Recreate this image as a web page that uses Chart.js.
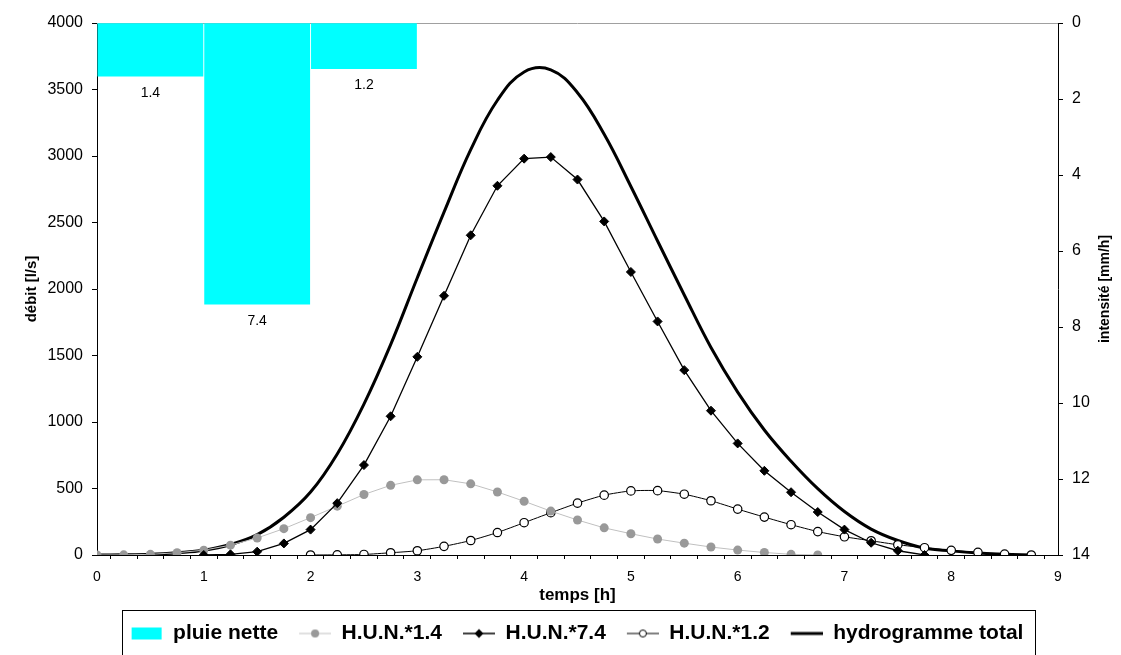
<!DOCTYPE html>
<html>
<head>
<meta charset="utf-8">
<script src="https://cdn.jsdelivr.net/npm/chart.js@4.4.1/dist/chart.umd.min.js"></script>
<style>
  html, body { margin: 0; padding: 0; background: #fff; }
</style>
</head>
<body>
<canvas id="hydro" width="1121" height="655"></canvas>
<script>
Chart.defaults.color = '#000';
Chart.defaults.font.family = "'Liberation Sans', Arial, sans-serif";

// temps [h], pas de 15 min
const temps = [0, 0.25, 0.5, 0.75, 1, 1.25, 1.5, 1.75, 2, 2.25, 2.5, 2.75,
  3, 3.25, 3.5, 3.75, 4, 4.25, 4.5, 4.75, 5, 5.25, 5.5, 5.75,
  6, 6.25, 6.5, 6.75, 7, 7.25, 7.5, 7.75, 8, 8.25, 8.5, 8.75];

// pluie nette [mm/h] par heure
const pluieX = [0.5, 1.5, 2.5];
const pluieNette = [1.4, 7.4, 1.2];

// débits [l/s]
const hun14 = [0, 1, 5, 17, 36, 74, 128, 198, 281, 367, 455, 524,
  565, 566, 535, 474, 404, 330, 263, 204, 160, 120, 89, 60,
  37, 19, 5, 0, null, null, null, null, null, null, null, null];
const hun74 = [null, null, null, null, 0, 5, 25, 87, 191, 390, 676, 1043,
  1490, 1949, 2404, 2776, 2980, 2992, 2823, 2508, 2128, 1756, 1390, 1085,
  839, 633, 472, 323, 191, 92, 32, 0, null, null, null, null];
const hun12 = [null, null, null, null, null, null, null, null, 0, 1, 4, 17,
  32, 65, 109, 169, 243, 318, 390, 450, 482, 484, 457, 408,
  345, 285, 228, 176, 137, 107, 77, 55, 35, 20, 7, 0];
const hydroTotal = [0, 1, 5, 17, 36, 79, 153, 284, 473, 760, 1135, 1582,
  2085, 2578, 3048, 3419, 3632, 3648, 3476, 3163, 2771, 2361, 1955, 1560,
  1225, 940, 705, 499, 327, 195, 109, 52, 31, 15, 5, 0];

const points = serie => temps.map((t, i) => ({x: t, y: serie[i]})).filter(p => p.y !== null);

// petites icones de légende (trait + marqueur)
function icone(dessin) {
  const c = document.createElement('canvas');
  c.width = 48;
  c.height = 16;
  dessin(c.getContext('2d'));
  return c;
}
function trait(g, couleur, epaisseur) {
  g.strokeStyle = couleur;
  g.lineWidth = epaisseur;
  g.beginPath();
  g.moveTo(16, 8);
  g.lineTo(48, 8);
  g.stroke();
}
const icones = [
  icone(g => { g.fillStyle = '#00FFFF'; g.fillRect(17, 2, 30, 12); }),
  icone(g => {
    trait(g, '#C0C0C0', 1);
    g.fillStyle = '#999999';
    g.beginPath(); g.arc(32, 8, 4, 0, Math.PI * 2); g.fill();
  }),
  icone(g => {
    trait(g, '#000', 1.5);
    g.fillStyle = '#000';
    g.beginPath(); g.moveTo(32, 3.5); g.lineTo(36.5, 8); g.lineTo(32, 12.5); g.lineTo(27.5, 8); g.closePath(); g.fill();
  }),
  icone(g => {
    trait(g, '#000', 1);
    g.fillStyle = '#fff';
    g.lineWidth = 1;
    g.beginPath(); g.arc(32, 8, 3.5, 0, Math.PI * 2); g.fill(); g.stroke();
  }),
  icone(g => { trait(g, '#000', 3); })
];

const habillage = {
  id: 'habillage',
  beforeDatasetsDraw(chart) {
    const {ctx, chartArea} = chart;
    ctx.save();
    ctx.strokeStyle = '#A0A0A0';
    ctx.lineWidth = 1;
    ctx.beginPath();
    ctx.moveTo(chartArea.left, chartArea.top + 0.5);
    ctx.lineTo(chartArea.right, chartArea.top + 0.5);
    ctx.stroke();
    ctx.restore();
  },
  afterDatasetsDraw(chart) {
    const {ctx} = chart;
    const meta = chart.getDatasetMeta(0);
    ctx.save();
    ctx.font = "14px 'Liberation Sans', Arial, sans-serif";
    ctx.fillStyle = '#000';
    ctx.textAlign = 'center';
    ctx.textBaseline = 'middle';
    meta.data.forEach((bar, i) => {
      ctx.fillText(pluieNette[i].toFixed(1), bar.x, bar.y + 17);
    });
    ctx.restore();
  },
  afterDraw(chart) {
    const {ctx, chartArea} = chart;
    ctx.save();
    // titre de l'axe secondaire, lu de bas en haut
    ctx.translate(chart.width - 16, (chartArea.top + chartArea.bottom) / 2);
    ctx.rotate(-Math.PI / 2);
    ctx.font = "bold 14px 'Liberation Sans', Arial, sans-serif";
    ctx.fillStyle = '#000';
    ctx.textAlign = 'center';
    ctx.textBaseline = 'middle';
    ctx.fillText('intensité [mm/h]', 0, 0);
    ctx.restore();

    // cadre de la légende
    const boites = chart.legend.legendHitBoxes;
    if (boites && boites.length) {
      const der = boites[boites.length - 1];
      const gauche = Math.round(boites[0].left + 16 - 9);
      const droite = Math.round(der.left + der.width + 12);
      const haut = Math.round(chart.legend.top - 8);
      ctx.save();
      ctx.strokeStyle = '#000';
      ctx.lineWidth = 1;
      ctx.strokeRect(gauche + 0.5, haut + 0.5, droite - gauche, chart.height - haut + 5);
      ctx.restore();
    }
  }
};

const ctx = document.getElementById('hydro');

const hydrogramme = new Chart(ctx, {
  type: 'line',
  data: {
    datasets: [
      {
        type: 'bar',
        label: 'pluie nette',
        data: pluieX.map((x, i) => ({x: x, y: pluieNette[i]})),
        yAxisID: 'y2',
        backgroundColor: '#00FFFF',
        borderWidth: 0,
        barThickness: 'flex',
        barPercentage: 0.985,
        categoryPercentage: 1,
        order: 0
      },
      {
        label: 'H.U.N.*1.4',
        data: points(hun14),
        yAxisID: 'y',
        borderColor: '#C0C0C0',
        borderWidth: 1,
        pointStyle: 'circle',
        pointRadius: 4.5,
        pointBackgroundColor: '#999999',
        pointBorderColor: '#999999',
        pointBorderWidth: 0,
        tension: 0,
        order: 2
      },
      {
        label: 'H.U.N.*7.4',
        data: points(hun74),
        yAxisID: 'y',
        borderColor: '#000',
        borderWidth: 1.3,
        pointStyle: 'rectRot',
        pointRadius: 4.5,
        pointBackgroundColor: '#000',
        pointBorderColor: '#000',
        pointBorderWidth: 1,
        tension: 0,
        order: 1
      },
      {
        label: 'H.U.N.*1.2',
        data: points(hun12),
        yAxisID: 'y',
        borderColor: '#000',
        borderWidth: 1,
        pointStyle: 'circle',
        pointRadius: 4.2,
        pointBackgroundColor: '#fff',
        pointBorderColor: '#000',
        pointBorderWidth: 1.2,
        tension: 0.2,
        order: 3
      },
      {
        label: 'hydrogramme total',
        data: points(hydroTotal),
        yAxisID: 'y',
        borderColor: '#000',
        borderWidth: 3,
        pointRadius: 0,
        tension: 0.4,
        order: 4
      }
    ]
  },
  options: {
    responsive: false,
    animation: false,
    events: [],
    layout: {padding: {top: 23, left: 17, right: 0, bottom: 1}},
    plugins: {
      tooltip: {enabled: false},
      legend: {
        position: 'bottom',
        labels: {
          usePointStyle: true,
          pointStyleWidth: 48,
          padding: 5,
          color: '#000',
          font: {size: 21, weight: 'bold'},
          generateLabels: chart => chart.data.datasets.map((ds, i) => ({
            text: ds.label,
            pointStyle: icones[i],
            fillStyle: '#000',
            strokeStyle: '#000',
            lineWidth: 0,
            hidden: false,
            datasetIndex: i
          }))
        }
      }
    },
    scales: {
      x: {
        type: 'linear',
        position: 'bottom',
        min: 0,
        max: 9,
        offset: false,
        afterFit: s => { s.height = 63; },
        border: {color: '#000', width: 1},
        grid: {drawOnChartArea: false, tickLength: 4, tickColor: '#000'},
        ticks: {
          stepSize: 0.25,
          autoSkip: false,
          maxRotation: 0,
          padding: 10,
          font: {size: 14},
          callback: v => Number.isInteger(v) ? v : ''
        },
        title: {
          display: true,
          text: 'temps [h]',
          font: {size: 17, weight: 'bold'},
          padding: {top: 0, bottom: 12}
        }
      },
      y: {
        position: 'left',
        min: 0,
        max: 4000,
        afterFit: s => { s.width = 80; },
        border: {color: '#000', width: 1},
        grid: {drawOnChartArea: false, tickLength: 5, tickColor: '#000'},
        ticks: {stepSize: 500, padding: 9, font: {size: 16}, callback: v => v},
        title: {
          display: true,
          text: 'débit [l/s]',
          font: {size: 15, weight: 'bold'},
          padding: {top: 6, bottom: 0}
        }
      },
      y2: {
        position: 'right',
        min: 0,
        max: 14,
        reverse: true,
        afterFit: s => { s.width = 63; },
        border: {color: '#000', width: 1},
        grid: {drawOnChartArea: false, tickLength: 5, tickColor: '#000'},
        ticks: {stepSize: 2, padding: 9, font: {size: 16}, callback: v => v}
      }
    }
  },
  plugins: [habillage]
});
</script>
</body>
</html>
